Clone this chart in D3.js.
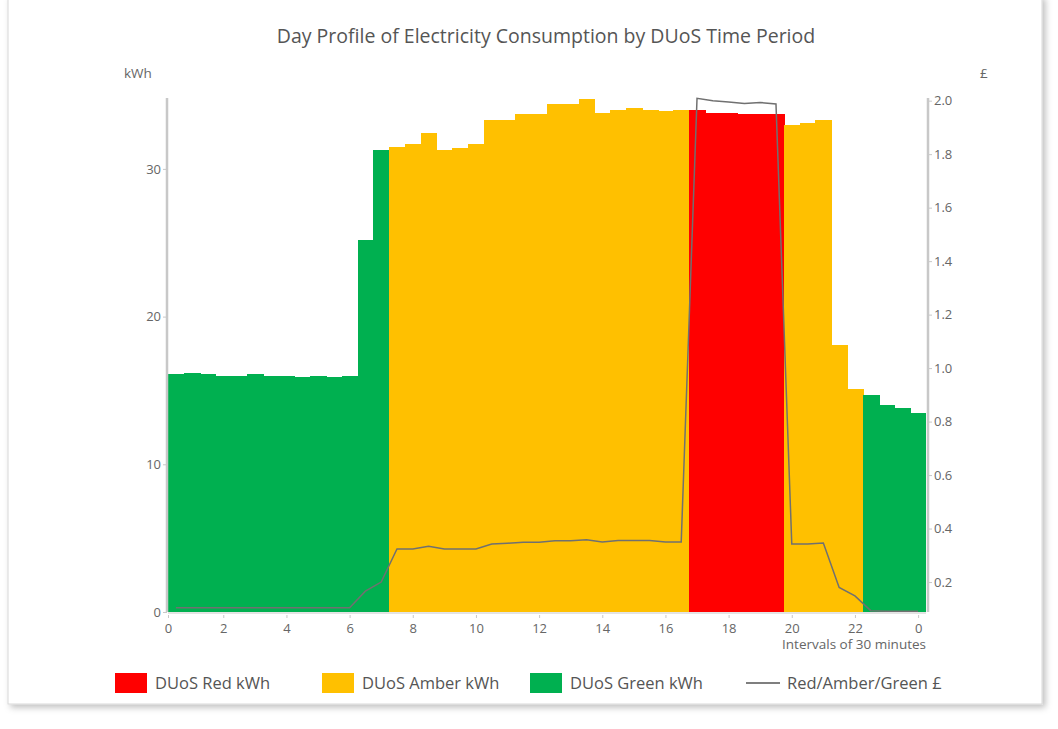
<!DOCTYPE html>
<html lang="en">
<head>
<meta charset="utf-8">
<title>Day Profile of Electricity Consumption by DUoS Time Period</title>
<script src="https://d3js.org/d3.v7.min.js"></script>
<style>
    body { margin: 0; background: #fff; }
    svg text { font-family: "Open Sans", "Noto Sans", sans-serif; }
    .axis text { fill: #666; font-size: 13px; }
    .axis path, .axis line { stroke: #c8c8c8; }
</style>
</head>
<body>
<div id="chart"></div>
<script>
// half-hour interval consumption (kWh), 48 intervals
var kwh = [16.1, 16.2, 16.1, 16.0, 16.0, 16.1, 16.0, 16.0, 15.9, 16.0, 15.9, 16.0,
           25.2, 31.3,
           31.5, 31.7, 32.4, 31.3, 31.4, 31.7, 33.3, 33.3, 33.7, 33.7, 34.4, 34.4,
           34.7, 33.8, 34.0, 34.1, 34.0, 33.9, 34.0,
           34.0, 33.8, 33.8, 33.7, 33.7, 33.7,
           33.0, 33.1, 33.3, 18.1, 15.1,
           14.7, 14.0, 13.8, 13.5];

// DUoS band of each interval
var band = ["G","G","G","G","G","G","G","G","G","G","G","G","G","G",
            "A","A","A","A","A","A","A","A","A","A","A","A","A","A","A","A","A","A","A",
            "R","R","R","R","R","R",
            "A","A","A","A","A",
            "G","G","G","G"];

// cost per interval (£)
var cost = [0.104, 0.104, 0.104, 0.104, 0.104, 0.104, 0.104, 0.104, 0.104, 0.104, 0.104, 0.104,
            0.166, 0.20,
            0.324, 0.324, 0.334, 0.324, 0.324, 0.324, 0.342, 0.345, 0.349, 0.349, 0.354, 0.354,
            0.358, 0.350, 0.355, 0.355, 0.355, 0.350, 0.350,
            2.009, 2.000, 1.995, 1.989, 1.993, 1.988,
            0.342, 0.342, 0.346, 0.180, 0.148,
            0.093, 0.091, 0.091, 0.091];

var hourTicks = [0.25, 2, 4, 6, 8, 10, 12, 14, 16, 18, 20, 22, 24];
var kwhTicks = [0, 10, 20, 30];
var costTicks = [0.2, 0.4, 0.6, 0.8, 1.0, 1.2, 1.4, 1.6, 1.8, 2.0];

var series = [
    {key: "R", name: "DUoS Red kWh", color: "#ff0000"},
    {key: "A", name: "DUoS Amber kWh", color: "#ffc000"},
    {key: "G", name: "DUoS Green kWh", color: "#00b050"}
];
var lineName = "Red/Amber/Green £";

var drawChart = function () {
    var w = 1058, h = 729;
    var plotLeft = 168, plotRight = 926, plotTop = 98, plotBottom = 612;

    var svg = d3.select("#chart").append("svg")
        .attr("width", w)
        .attr("height", h);

    // frame with soft shadow
    var f = svg.append("defs").append("filter").attr("id", "shadow")
        .attr("x", "-5%").attr("y", "-5%").attr("width", "110%").attr("height", "110%");
    f.append("feDropShadow").attr("dx", 3).attr("dy", 3).attr("stdDeviation", 3)
        .attr("flood-color", "#000").attr("flood-opacity", 0.25);
    svg.append("rect")
        .attr("x", 8).attr("y", -4).attr("width", 1034).attr("height", 708)
        .attr("fill", "#fff").attr("stroke", "#d8d8d8")
        .attr("filter", "url(#shadow)");

    var xScale = d3.scaleLinear().domain([0.25, 24.25]).range([plotLeft, plotRight]);
    var yScale = d3.scaleLinear().domain([0, 34.8]).range([plotBottom, plotTop]);
    var y2Scale = d3.scaleLinear().domain([0.088, 2.01]).range([plotBottom, plotTop]);

    var colorOf = {};
    series.forEach(function (s) { colorOf[s.key] = s.color; });

    // bars (slight overlap so no seams between neighbours)
    svg.append("g")
        .attr("shape-rendering", "crispEdges")
        .selectAll("rect")
        .data(kwh)
        .enter()
        .append("rect")
        .attr("x", function (d, i) { return xScale(0.25 + i * 0.5); })
        .attr("y", function (d) { return yScale(d); })
        .attr("width", function (d, i) { return xScale(0.75 + i * 0.5) - xScale(0.25 + i * 0.5) + (i < kwh.length - 1 ? 1 : 0); })
        .attr("height", function (d) { return yScale(0) - yScale(d); })
        .attr("fill", function (d, i) { return colorOf[band[i]]; });

    // cost line
    var line = d3.line()
        .x(function (d, i) { return xScale(0.5 + i * 0.5); })
        .y(function (d) { return y2Scale(d); });

    svg.append("path")
        .datum(cost)
        .attr("d", line)
        .attr("fill", "none")
        .attr("stroke", "#707070")
        .attr("stroke-width", 1.5);

    // axes
    var xAxis = d3.axisBottom(xScale)
        .tickValues(hourTicks)
        .tickSize(5)
        .tickFormat(function (d) { return d < 1 ? "0" : String(d % 24); });
    var gx = svg.append("g").attr("class", "axis")
        .attr("transform", "translate(0," + (plotBottom + 1) + ")")
        .call(xAxis);
    gx.select(".domain").attr("d", "M" + plotLeft + ",0H" + plotRight);
    gx.selectAll(".tick line").attr("y1", 2);
    gx.selectAll("text").attr("dy", "0.9em");

    var yAxis = d3.axisLeft(yScale).tickValues(kwhTicks).tickSize(4).tickPadding(2);
    var gy = svg.append("g").attr("class", "axis")
        .attr("transform", "translate(" + (plotLeft - 1) + ",0)")
        .call(yAxis);
    gy.select(".domain").attr("d", "M0," + plotTop + "V" + plotBottom).attr("stroke-width", 2.5);

    var y2Axis = d3.axisRight(y2Scale).tickValues(costTicks).tickSize(4).tickPadding(2)
        .tickFormat(d3.format(".1f"));
    var gy2 = svg.append("g").attr("class", "axis")
        .attr("transform", "translate(" + (plotRight + 2) + ",0)")
        .call(y2Axis);
    gy2.select(".domain").attr("d", "M0," + plotTop + "V" + plotBottom).attr("stroke-width", 2.5);

    // titles
    svg.append("text")
        .attr("x", 546).attr("y", 43)
        .attr("text-anchor", "middle")
        .attr("fill", "#555")
        .style("font-size", "19.5px")
        .text("Day Profile of Electricity Consumption by DUoS Time Period");

    svg.append("text").attr("x", 124).attr("y", 78)
        .attr("fill", "#666").style("font-size", "13.5px").text("kWh");
    svg.append("text").attr("x", 980).attr("y", 78)
        .attr("fill", "#666").style("font-size", "13.5px").text("£");

    svg.append("text")
        .attr("x", plotRight).attr("y", 649)
        .attr("text-anchor", "end")
        .attr("fill", "#666").style("font-size", "13.5px")
        .text("Intervals of 30 minutes");

    // legend
    var legendX = [115, 322, 530];
    var legend = svg.append("g");
    series.forEach(function (s, i) {
        legend.append("rect")
            .attr("x", legendX[i]).attr("y", 673)
            .attr("width", 32).attr("height", 20)
            .attr("fill", s.color);
        legend.append("text")
            .attr("x", legendX[i] + 40).attr("y", 689)
            .attr("fill", "#555").style("font-size", "16.5px")
            .text(s.name);
    });
    legend.append("line")
        .attr("x1", 746).attr("x2", 780).attr("y1", 683).attr("y2", 683)
        .attr("stroke", "#555").attr("stroke-width", 1.5);
    legend.append("text")
        .attr("x", 787).attr("y", 689)
        .attr("fill", "#555").style("font-size", "16.5px")
        .text(lineName);
};

drawChart();
</script>
</body>
</html>
